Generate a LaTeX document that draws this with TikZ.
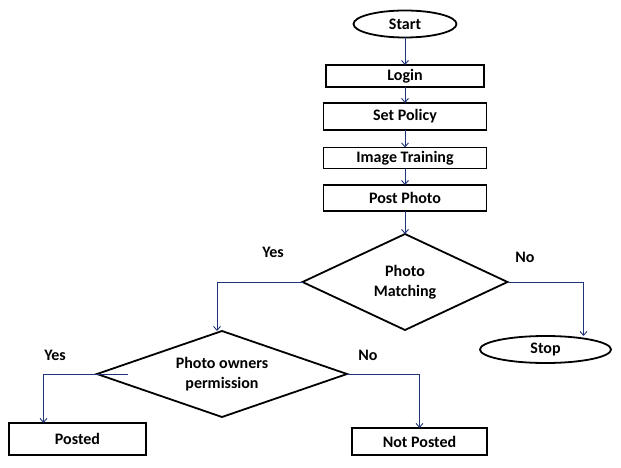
\documentclass[tikz,border=0pt]{standalone}
\usepackage{fontspec}
\setmainfont{Carlito}
\usepackage{tikz}
\usetikzlibrary{arrows.meta, positioning, shapes.geometric}
\usepackage{xcolor}
\definecolor{flowblue}{RGB}{32,52,122}

\begin{document}
\begin{tikzpicture}[
    x=1pt, y=-1pt,
    box/.style={rectangle, draw, line width=1.8pt, inner sep=0pt, outer sep=0pt, align=center, font=\bfseries\fontsize{16}{20}\selectfont},
    term/.style={ellipse, draw, line width=1.8pt, inner sep=0pt, outer sep=0pt, font=\bfseries\fontsize{16}{20}\selectfont},
    decision/.style={diamond, draw, line width=1.8pt, inner sep=0pt, outer sep=0pt, align=center, font=\bfseries\fontsize{16}{20}\selectfont},
    arrow/.style={-{Straight Barb[length=4pt, width=7pt]}, line width=0.9pt, draw=flowblue},
    label/.style={font=\bfseries\fontsize{16}{20}\selectfont, inner sep=1pt}
]
    \useasboundingbox (0,0) rectangle (621,468);

    % Nodes - main column
    \node[term, minimum width=103pt, minimum height=27pt] (start) at (405,24) {Start};
    \node[box, minimum width=158pt, minimum height=22pt] (login) at (405,76) {Login};
    \node[box, minimum width=163pt, minimum height=27pt] (policy) at (405,116.5) {Set Policy};
    \node[box, minimum width=163pt, minimum height=21pt] (training) at (405,158) {Image Training};
    \node[box, minimum width=163pt, minimum height=26pt] (post) at (405,198) {Post Photo};

    % Nodes - decisions
    \node[decision, aspect=2.14, minimum width=205pt, minimum height=96pt] (match) at (405,282) {Photo\\Matching};
    \node[decision, aspect=2.9, minimum width=250pt, minimum height=86pt] (perm) at (222,374) {Photo owners\\permission};

    % Nodes - ends
    \node[term, minimum width=131pt, minimum height=27pt] (stop) at (545.5,349.5) {Stop};
    \node[box, minimum width=137pt, minimum height=32pt] (posted) at (77.5,439) {Posted};
    \node[box, minimum width=135pt, minimum height=27pt] (notposted) at (419.5,441.5) {Not Posted};

    % Branch labels
    \node[label] (yesmatch) at (273,252) {Yes};
    \node[label] (nomatch) at (525,257) {No};
    \node[label] (yesperm) at (55,355) {Yes};
    \node[label] (noperm) at (368,355) {No};

    % Main flow
    \draw[arrow] (start) -- (login);
    \draw[arrow] (login) -- (policy);
    \draw[arrow] (policy) -- (training);
    \draw[arrow] (training) -- (post);
    \draw[arrow] (post) -- (match);

    % Branches
    \draw[arrow] (match.west) -| ([xshift=-5pt]perm.north);
    \draw[arrow] (match.east) -| ([xshift=38pt]stop.north);
    \draw[arrow] ([xshift=31pt]perm.west) -| ([xshift=-34pt]posted.north);
    \draw[arrow] (perm.east) -| (notposted.north);
\end{tikzpicture}
\end{document}
